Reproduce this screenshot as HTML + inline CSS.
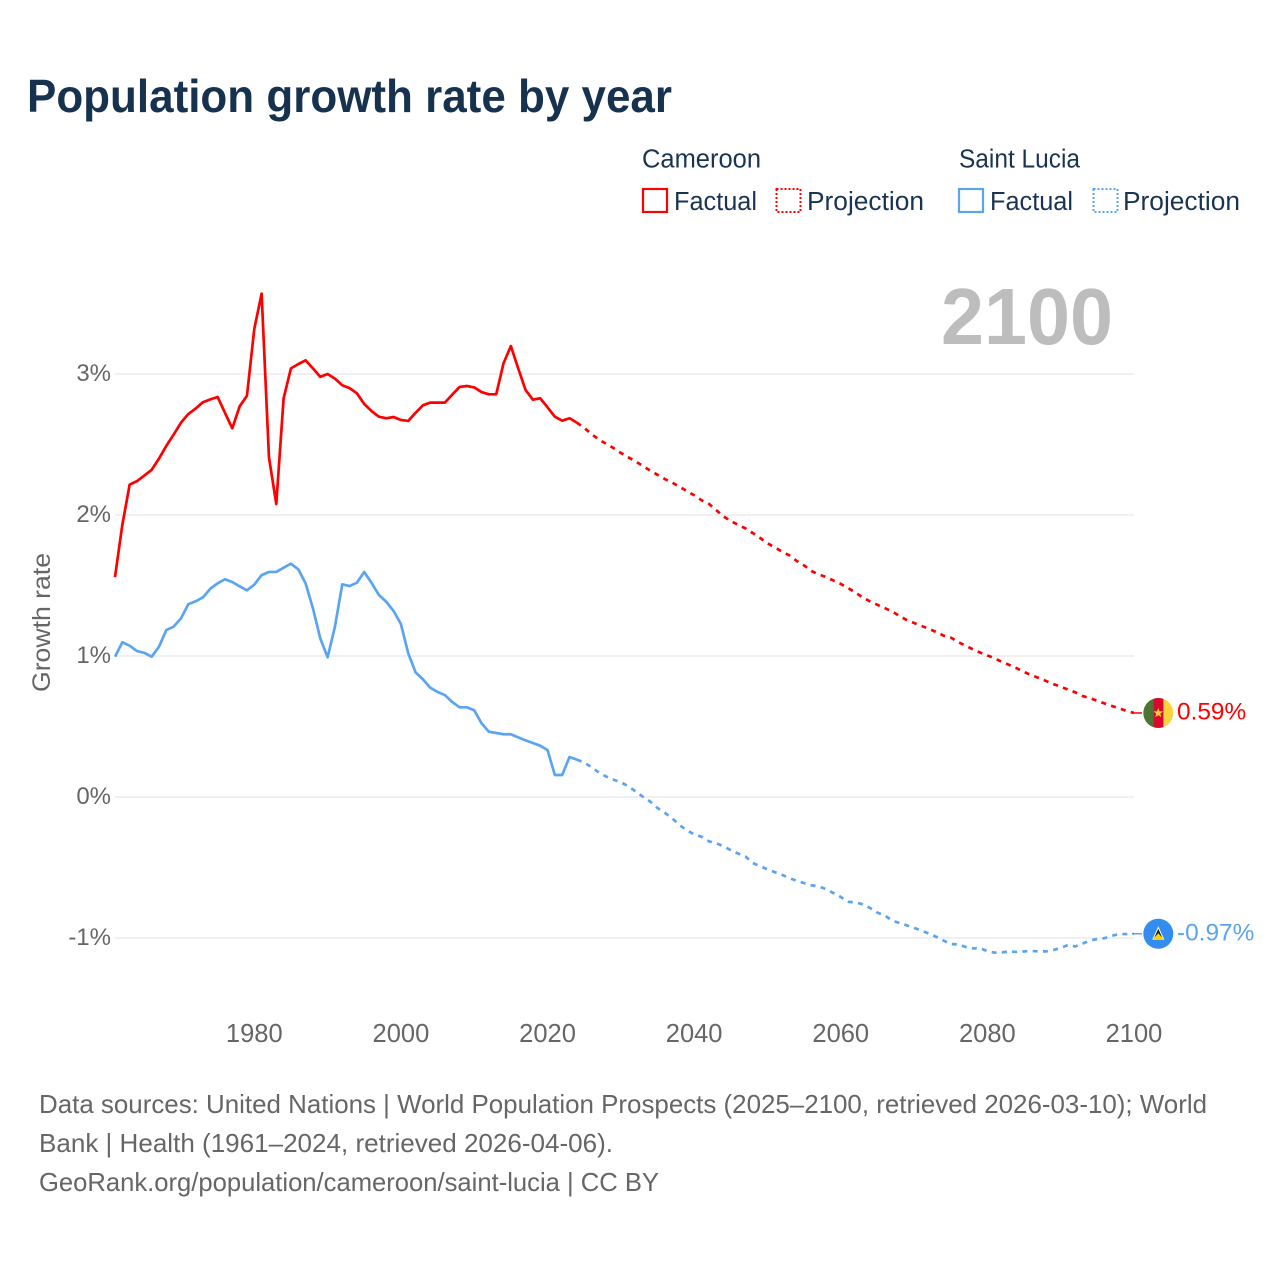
<!DOCTYPE html>
<html lang="en">
<head>
<meta charset="utf-8">
<title>Population growth rate by year</title>
<style>
html,body{margin:0;padding:0;background:#fff;}
svg{display:block;font-family:"Liberation Sans",sans-serif;}
</style>
</head>
<body>
<svg id="chart" width="1280" height="1280" viewBox="0 0 1280 1280" xmlns="http://www.w3.org/2000/svg">
<rect width="1280" height="1280" fill="#ffffff"/>
<text x="27" y="112" font-size="46.5" font-weight="700" fill="#17324f" textLength="645" lengthAdjust="spacingAndGlyphs">Population growth rate by year</text>

<g font-size="25.5" fill="#1a3352">
<text x="642" y="167.5" textLength="119" lengthAdjust="spacingAndGlyphs">Cameroon</text>
<text x="959" y="167.5" textLength="121" lengthAdjust="spacingAndGlyphs">Saint Lucia</text>
<g>
<rect x="643" y="189" width="24" height="23" fill="none" stroke="#ff0000" stroke-width="2.2"/>
<text x="674" y="210" textLength="83" lengthAdjust="spacingAndGlyphs">Factual</text>
</g>
<g>
<rect x="776.5" y="189" width="24" height="23" fill="none" stroke="#ff0000" stroke-width="2" stroke-dasharray="2 2"/>
<text x="807" y="210" textLength="117" lengthAdjust="spacingAndGlyphs">Projection</text>
</g>
<g>
<rect x="959" y="189" width="24" height="23" fill="none" stroke="#5ba4f0" stroke-width="2.2"/>
<text x="990" y="210" textLength="83" lengthAdjust="spacingAndGlyphs">Factual</text>
</g>
<g>
<rect x="1093.5" y="189" width="24" height="23" fill="none" stroke="#5ba4f0" stroke-width="2" stroke-dasharray="2 2"/>
<text x="1123" y="210" textLength="117" lengthAdjust="spacingAndGlyphs">Projection</text>
</g>
</g>

<g id="grid"></g>
<g id="y-ticks"></g>
<g id="x-ticks"></g>
<text transform="translate(50,622.5) rotate(-90)" text-anchor="middle" font-size="25" fill="#666666" textLength="139" lengthAdjust="spacingAndGlyphs">Growth rate</text>
<text x="941" y="344" font-size="80" font-weight="700" fill="#bdbdbd" textLength="172" lengthAdjust="spacingAndGlyphs">2100</text>

<g id="series"></g>
<g id="markers"></g>

<g font-size="26" fill="#666666">
<text x="39" y="1113" textLength="1168" lengthAdjust="spacingAndGlyphs">Data sources: United Nations | World Population Prospects (2025–2100, retrieved 2026-03-10); World</text>
<text x="39" y="1152" textLength="574" lengthAdjust="spacingAndGlyphs">Bank | Health (1961–2024, retrieved 2026-04-06).</text>
<text x="39" y="1191" textLength="620" lengthAdjust="spacingAndGlyphs">GeoRank.org/population/cameroon/saint-lucia | CC BY</text>
</g>
</svg>

<script>
const factualStartYear = 1961;
const projectionStartYear = 2024;
const xTickLabels = [1980, 2000, 2020, 2040, 2060, 2080, 2100];
const yTickLabels = [3, 2, 1, 0, -1];
const endLabels = ["0.59%", "-0.97%"];

const cameroonFactual = [1.56,1.93,2.216,2.24,2.28,2.32,2.40,2.49,2.57,2.655,2.716,2.755,2.80,2.82,2.837,2.725,2.615,2.77,2.846,3.32,3.57,2.41,2.078,2.827,3.04,3.07,3.097,3.04,2.98,3.0,2.967,2.92,2.90,2.863,2.787,2.737,2.697,2.686,2.695,2.674,2.667,2.725,2.778,2.797,2.797,2.797,2.853,2.908,2.915,2.905,2.872,2.856,2.856,3.076,3.198,3.04,2.887,2.818,2.828,2.764,2.697,2.669,2.686,2.655];

const cameroonProjection = [2.655,2.618,2.574,2.535,2.505,2.475,2.44,2.41,2.38,2.348,2.315,2.285,2.255,2.23,2.2,2.17,2.14,2.105,2.08,2.035,1.99,1.957,1.93,1.905,1.872,1.837,1.80,1.77,1.74,1.713,1.674,1.642,1.603,1.578,1.56,1.535,1.511,1.482,1.45,1.415,1.387,1.363,1.34,1.316,1.284,1.255,1.234,1.213,1.194,1.17,1.145,1.131,1.099,1.074,1.048,1.025,1.004,0.984,0.957,0.936,0.913,0.887,0.864,0.844,0.823,0.801,0.782,0.762,0.742,0.716,0.701,0.682,0.663,0.645,0.629,0.61,0.596];

const saintLuciaFactual = [0.995,1.097,1.073,1.035,1.023,0.995,1.066,1.184,1.208,1.267,1.367,1.388,1.416,1.477,1.515,1.544,1.525,1.494,1.466,1.506,1.574,1.596,1.596,1.626,1.655,1.615,1.515,1.338,1.125,0.991,1.208,1.508,1.496,1.52,1.596,1.518,1.433,1.385,1.319,1.227,1.019,0.884,0.835,0.775,0.745,0.723,0.674,0.636,0.636,0.615,0.523,0.463,0.454,0.445,0.445,0.423,0.402,0.383,0.364,0.333,0.156,0.156,0.284,0.265];

const saintLuciaProjection = [0.265,0.245,0.211,0.174,0.145,0.123,0.104,0.077,0.04,0.002,-0.032,-0.078,-0.112,-0.151,-0.199,-0.236,-0.265,-0.282,-0.314,-0.327,-0.35,-0.377,-0.401,-0.422,-0.468,-0.491,-0.513,-0.533,-0.552,-0.576,-0.594,-0.611,-0.626,-0.634,-0.654,-0.681,-0.709,-0.743,-0.748,-0.761,-0.787,-0.82,-0.84,-0.876,-0.894,-0.91,-0.928,-0.948,-0.968,-0.991,-1.018,-1.043,-1.045,-1.063,-1.074,-1.071,-1.094,-1.104,-1.102,-1.095,-1.099,-1.095,-1.092,-1.095,-1.095,-1.085,-1.07,-1.05,-1.06,-1.039,-1.018,-1.007,-1.001,-0.984,-0.972,-0.972,-0.97];

const SVG_NS = "http://www.w3.org/2000/svg";
const RED = "#ff0000";
const BLUE = "#5ba4f0";

function xScale(year) { return 115 + (year - 1961) * (1134 - 115) / 139; }
function yScale(value) { return 797 - value * 141; }

function make(tag, parent) {
  const el = document.createElementNS(SVG_NS, tag);
  parent.appendChild(el);
  return el;
}
function pathFor(values, startYear) {
  return values.map(function (v, i) {
    return (i ? "L" : "M") + xScale(startYear + i).toFixed(2) + " " + yScale(v).toFixed(2);
  }).join(" ");
}

const grid = document.getElementById("grid");
const yTicks = document.getElementById("y-ticks");
yTickLabels.forEach(function (t) {
  const line = make("line", grid);
  
  
  line.setAttribute("x1", 115);
  line.setAttribute("x2", xScale(2100));
  line.setAttribute("y1", yScale(t));
  line.setAttribute("y2", yScale(t));
  line.setAttribute("stroke", "#ececec");
  line.setAttribute("stroke-width", "1.5");

  const label = make("text", yTicks);
  
  
  label.setAttribute("x", 111);
  label.setAttribute("y", yScale(t) + 7);
  label.setAttribute("text-anchor", "end");
  label.setAttribute("font-size", "24");
  label.setAttribute("fill", "#666666");
  label.textContent = t + "%";
});

const xTicks = document.getElementById("x-ticks");
xTickLabels.forEach(function (t) {
  const label = make("text", xTicks);
  
  
  label.setAttribute("x", xScale(t));
  label.setAttribute("y", 1042);
  label.setAttribute("text-anchor", "middle");
  label.setAttribute("font-size", "25.5");
  label.setAttribute("fill", "#666666");
  label.textContent = t;
});

const series = document.getElementById("series");
function drawLine(values, startYear, color, dashed, name) {
  const p = make("path", series);
  
  
  p.setAttribute("d", pathFor(values, startYear));
  p.setAttribute("fill", "none");
  p.setAttribute("stroke", color);
  p.setAttribute("stroke-width", "2.7");
  p.setAttribute("stroke-linejoin", "round");
  if (dashed) p.setAttribute("stroke-dasharray", "5 5.3");
}
drawLine(cameroonFactual, factualStartYear, RED, false, "cameroon-factual-line");
drawLine(cameroonProjection, projectionStartYear, RED, true, "cameroon-projection-line");
drawLine(saintLuciaFactual, factualStartYear, BLUE, false, "saint-lucia-factual-line");
drawLine(saintLuciaProjection, projectionStartYear, BLUE, true, "saint-lucia-projection-line");

const markers = document.getElementById("markers");
function drawConnector(yPos, color, name) {
  const c = make("line", markers);
  
  
  c.setAttribute("x1", xScale(2100) - 2);
  c.setAttribute("x2", xScale(2100) + 8);
  c.setAttribute("y1", yPos);
  c.setAttribute("y2", yPos);
  c.setAttribute("stroke", color);
  c.setAttribute("stroke-width", "1.5");
}
function drawEndLabel(yPos, color, text, name) {
  const t = make("text", markers);
  
  
  t.setAttribute("x", 1177);
  t.setAttribute("y", yPos + 6.5);
  t.setAttribute("font-size", "24.4");
  t.setAttribute("fill", color);
  t.textContent = text;
}
function flagShape(tag, parent, attrs) {
  const s = make(tag, parent);
  Object.keys(attrs).forEach(function (k) { s.setAttribute(k, attrs[k]); });
  return s;
}

const cmY = yScale(cameroonProjection[cameroonProjection.length - 1]);
const slY = yScale(saintLuciaProjection[saintLuciaProjection.length - 1]);
drawConnector(cmY, RED, "cameroon-connector");
drawConnector(slY, BLUE, "saint-lucia-connector");

const clip = make("clipPath", markers);
clip.setAttribute("id", "cm-clip");
flagShape("circle", clip, {cx: 1158.3, cy: cmY, r: 15});

const cmFlag = make("g", markers);


cmFlag.setAttribute("clip-path", "url(#cm-clip)");
flagShape("rect", cmFlag, {x: 1143, y: cmY - 16, width: 10.4, height: 32, fill: "#4e7432"});
flagShape("rect", cmFlag, {x: 1153.3, y: cmY - 16, width: 10.2, height: 32, fill: "#d8082e"});
flagShape("rect", cmFlag, {x: 1163.4, y: cmY - 16, width: 10.6, height: 32, fill: "#fdd23f"});
flagShape("polygon", cmFlag, {points: [[0,-5],[1.3,-1.6],[4.9,-1.6],[2,0.6],[3,4.2],[0,2.1],[-3,4.2],[-2,0.6],[-4.9,-1.6],[-1.3,-1.6]].map(function (p) { return (1158.3 + p[0]) + "," + (cmY + p[1]); }).join(" "), fill: "#fdd23f"});

const slFlag = make("g", markers);


flagShape("circle", slFlag, {cx: 1158.3, cy: slY, r: 15, fill: "#338df0"});
flagShape("polygon", slFlag, {points: "1158.3," + (slY - 7.5) + " 1152.2," + (slY + 6) + " 1164.4," + (slY + 6), fill: "#ffffff"});
flagShape("polygon", slFlag, {points: "1158.3," + (slY - 5) + " 1154.2," + (slY + 4) + " 1162.4," + (slY + 4), fill: "#222222"});
flagShape("polygon", slFlag, {points: "1158.3," + (slY - 0.5) + " 1152.4," + (slY + 6) + " 1164.2," + (slY + 6), fill: "#fcd116"});

drawEndLabel(cmY, RED, endLabels[0], "cameroon-end-value");
drawEndLabel(slY, BLUE, endLabels[1], "saint-lucia-end-value");
</script>
</body>
</html>
